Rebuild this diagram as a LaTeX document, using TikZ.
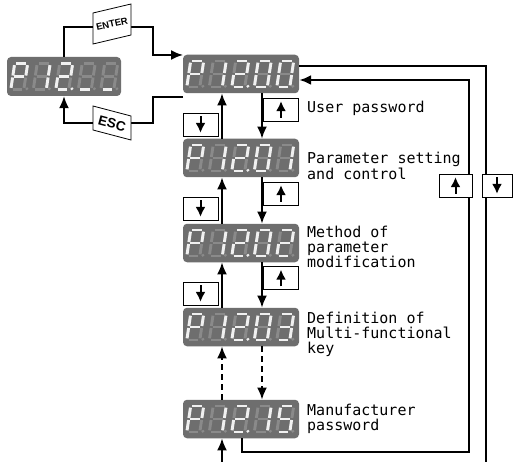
\documentclass[tikz,border=0pt]{standalone}
\usepackage{fontspec}
\newfontfamily\lblfont{DejaVu Sans Mono}
\newfontfamily\keyfont{Liberation Sans}
\usetikzlibrary{arrows.meta,calc}
\definecolor{dispbg}{HTML}{6E6E6E}
\definecolor{segdim}{HTML}{8A8A8A}
\definecolor{seglit}{HTML}{F0F0F0}
% segment end points (digit origin at bottom left, y grows downwards)
\expandafter\def\csname spa\endcsname{{1.7}{-26}{11.3}{-26}}
\expandafter\def\csname spb\endcsname{{13}{-24.3}{13}{-14}}
\expandafter\def\csname spc\endcsname{{13}{-12}{13}{-1.7}}
\expandafter\def\csname spd\endcsname{{1.7}{0}{11.3}{0}}
\expandafter\def\csname spe\endcsname{{0}{-12}{0}{-1.7}}
\expandafter\def\csname spf\endcsname{{0}{-24.3}{0}{-14}}
\expandafter\def\csname spg\endcsname{{1.7}{-13}{11.3}{-13}}
\def\drawseg#1#2{\expandafter\expandafter\expandafter\drawsegaux\csname sp#2\endcsname{#1}}
\def\drawsegaux#1#2#3#4#5{\draw[#5] (#1,#2)--(#3,#4);}
\newcommand\segdigit[4]{%
  \begin{scope}[shift={($(#1.west)+(4+22.5*#2,13)$)},xslant=0.15]
    \foreach \s in {a,b,c,d,e,f,g}{\drawseg{segoff}{\s}}
    \foreach \s in {#3}{\drawseg{segon}{\s}}
    \fill[#4] (16,-0.7) circle[radius=1.6];
  \end{scope}}
\newcommand\segdisplay[3]{%
  \segdigit{#1}{0}{a,b,f,g,e}{segdim}
  \segdigit{#1}{1}{b,c}{segdim}
  \segdigit{#1}{2}{a,b,g,e,d}{seglit}
  \segdigit{#1}{3}{#2}{segdim}
  \segdigit{#1}{4}{#3}{segdim}}
\begin{document}
\begin{tikzpicture}[x=1pt,y=-1pt,
  disp/.style={rectangle,rounded corners=4pt,fill=dispbg,minimum width=116pt,minimum height=38.5pt,inner sep=0pt},
  segoff/.style={segdim,line width=2.9pt,line cap=butt},
  segon/.style={seglit,line width=2.9pt,line cap=butt},
  conn/.style={line width=1.8pt},
  loopline/.style={line width=2.4pt},
  arr/.style={-{Latex[length=12pt,width=10pt]}},
  kbox/.style={draw,line width=0.8pt,fill=white,minimum width=35pt,minimum height=23pt,inner sep=0pt},
  karr/.style={line width=2pt,-{Latex[length=10pt,width=10pt]}},
  keyshape/.style={draw,line width=0.8pt,fill=white},
  lbl/.style={anchor=base west,align=left,inner sep=0pt,font=\lblfont\fontsize{15}{15}\selectfont},
  dashedline/.style={dash pattern=on 6pt off 4pt}]
\useasboundingbox (0,0) rectangle (513,462);
\fill[white] (0,0) rectangle (513,462);

% displays
\node[disp,minimum width=114pt,minimum height=39pt] (L) at (64,76.5) {};
\node[disp] (D0) at (241,74) {};
\node[disp] (D1) at (241,158) {};
\node[disp] (D2) at (241,243) {};
\node[disp] (D3) at (241,327) {};
\node[disp] (D4) at (241,419) {};
\segdisplay{L}{d}{d}
\segdisplay{D0}{a,b,c,d,e,f}{a,b,c,d,e,f}
\segdisplay{D1}{a,b,c,d,e,f}{b,c}
\segdisplay{D2}{a,b,c,d,e,f}{a,b,g,e,d}
\segdisplay{D3}{a,b,c,d,e,f}{a,b,g,c,d}
\segdisplay{D4}{b,c}{a,f,g,c,d}

% ENTER / ESC keys
\coordinate (enL) at (93,27);
\coordinate (enR) at (131,27);
\coordinate (j1) at (153,27);
\coordinate (D0in) at (183,55);
\coordinate (D0out) at (183,97);
\coordinate (j2) at (153,97);
\coordinate (escR) at (131,123);
\coordinate (escL) at (93,123);
\draw[conn] (L.north) |- (enL);
\draw[conn,arr] (enR) -- (j1) |- (D0in);
\draw[conn] (D0out) -- (j2) |- (escR);
\draw[conn,arr] (escL) -| (L.south);
\draw[keyshape] (93,13) -- (131,4) -- (131,35) -- (93,44) -- cycle;
\node[rotate=13,font=\keyfont\bfseries\fontsize{9.5}{10}\selectfont,inner sep=0pt] (enter) at (112,24) {ENTER};
\draw[keyshape] (93,106) -- (131,116) -- (131,140) -- (93,130) -- cycle;
\node[rotate=-15,font=\keyfont\bfseries\fontsize{13.5}{14}\selectfont,inner sep=0pt] (esc) at (112,123.5) {ESC};

% main column connectors
\coordinate (upx) at (222,462);
\coordinate (dnx) at (262,0);
\draw[conn,arr] (D1.north -| upx) -- (D0.south -| upx);
\draw[conn,arr] (D0.south -| dnx) -- (D1.north -| dnx);
\draw[conn,arr] (D2.north -| upx) -- (D1.south -| upx);
\draw[conn,arr] (D1.south -| dnx) -- (D2.north -| dnx);
\draw[conn,arr] (D3.north -| upx) -- (D2.south -| upx);
\draw[conn,arr] (D2.south -| dnx) -- (D3.north -| dnx);
\draw[conn,arr,dashedline] (D4.north -| upx) -- (D3.south -| upx);
\draw[conn,arr,dashedline] (D3.south -| dnx) -- (D4.north -| dnx);
\draw[conn,arr] (upx) -- (D4.south -| upx);

% key boxes in the column
\foreach \n/\ly/\ry in {1/124.5/109.5, 2/208.5/193.5, 3/293.5/278}{
  \node[kbox] (kd\n) at (200.5,\ly) {};
  \draw[karr] ($(kd\n.north)+(0,3.5)$) -- ($(kd\n.south)+(0,-3.5)$);
  \node[kbox] (ku\n) at (281,\ry) {};
  \draw[karr] ($(ku\n.south)+(0,-3.5)$) -- ($(ku\n.north)+(0,3.5)$);
}

% loop lines on the right
\coordinate (o1) at (486,66);
\coordinate (oEnd) at (486,462);
\coordinate (i1) at (242,452);
\coordinate (i2) at (469,452);
\coordinate (i3) at (469,80);
\draw[loopline] ($(D0.east)+(0,-8)$) -- (o1) -- (oEnd);
\draw[loopline,arr] (D4.south -| i1) -- (i1) -- (i2) -- (i3) -- ($(D0.east)+(0,6)$);
\node[kbox,minimum width=33pt] (kru) at (455.5,185.5) {};
\draw[karr] ($(kru.south)+(0,-3.5)$) -- ($(kru.north)+(0,3.5)$);
\node[kbox,minimum width=30pt] (krd) at (497,185.5) {};
\draw[karr] ($(krd.north)+(0,3.5)$) -- ($(krd.south)+(0,-3.5)$);

% labels (base anchor = baseline of the last line)
\node[lbl] (t0) at (307,113) {User password};
\node[lbl] (t1) at (307,180) {Parameter setting\\[2pt]and control};
\node[lbl] (t2) at (307,267) {Method of\\parameter\\modification};
\node[lbl] (t3) at (307,353) {Definition of\\Multi-functional\\key};
\node[lbl] (t4) at (307,430) {Manufacturer\\password};
\end{tikzpicture}
\end{document}
